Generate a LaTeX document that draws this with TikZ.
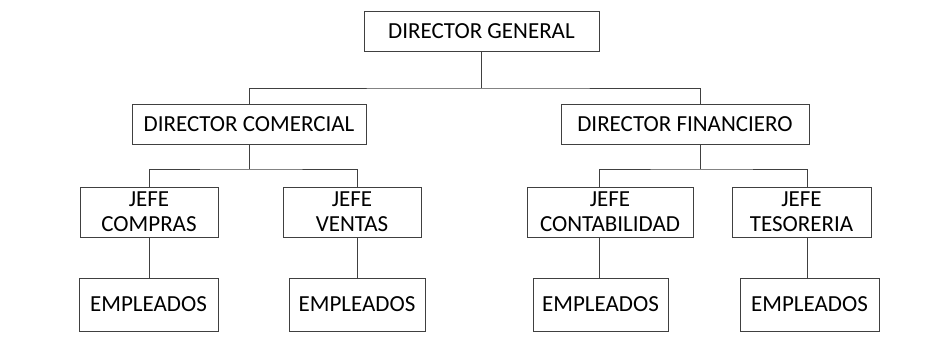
\documentclass[tikz,border=0pt]{standalone}
\usepackage{fontspec}
\setmainfont{Carlito}
\usepackage{tikz}
\usetikzlibrary{positioning}
\definecolor{orgLine}{HTML}{404040}
\tikzset{
  orgbox/.style={rectangle,draw=orgLine,line width=0.9pt,fill=white,
                 inner sep=0pt,align=center,
                 font=\fontsize{23}{25}\selectfont},
  orglink/.style={draw=orgLine,line width=0.9pt}
}

\begin{document}
\begin{tikzpicture}[x=1pt,y=-1pt]
    \useasboundingbox (0,0) rectangle (942,348);
    % level 0
    \node[orgbox,minimum width=235pt,minimum height=40pt] (dg) at (481.5,31) {DIRECTOR GENERAL};
    % level 1
    \node[orgbox,minimum width=234pt,minimum height=40pt] (dc) at (249,124) {DIRECTOR COMERCIAL};
    \node[orgbox,minimum width=248pt,minimum height=40pt] (df) at (685,124) {DIRECTOR FINANCIERO};
    % level 2
    \node[orgbox,minimum width=138pt,minimum height=50pt] (jc) at (149,212) {JEFE\\COMPRAS};
    \node[orgbox,minimum width=138pt,minimum height=50pt] (jv) at (352,212) {JEFE\\VENTAS};
    \node[orgbox,minimum width=166pt,minimum height=50pt] (jco) at (610,212) {JEFE\\CONTABILIDAD};
    \node[orgbox,minimum width=139pt,minimum height=50pt] (jt) at (801.5,212) {JEFE\\TESORERIA};
    % level 3
    \node[orgbox,minimum width=139pt,minimum height=53pt] (e1) at (148.5,304.5) {EMPLEADOS};
    \node[orgbox,minimum width=136pt,minimum height=53pt] (e2) at (357,304.5) {EMPLEADOS};
    \node[orgbox,minimum width=135pt,minimum height=53pt] (e3) at (600.5,304.5) {EMPLEADOS};
    \node[orgbox,minimum width=139pt,minimum height=53pt] (e4) at (809.5,304.5) {EMPLEADOS};

    % connector points
    \coordinate (bus0) at (481.5,88);
    \coordinate (bus1) at (249,169);
    \coordinate (bus2) at (700,169);
    \coordinate (dfin) at ([xshift=15pt]df.north);
    \coordinate (dfout) at ([xshift=15pt]df.south);
    \coordinate (jvin) at ([xshift=5pt]jv.north);
    \coordinate (jvout) at ([xshift=5pt]jv.south);
    \coordinate (jcoin) at ([xshift=-11pt]jco.north);
    \coordinate (jcoout) at ([xshift=-11pt]jco.south);
    \coordinate (jtin) at ([xshift=5.5pt]jt.north);
    \coordinate (jtout) at ([xshift=5.5pt]jt.south);

    \draw[orglink] (dg.south) -- (bus0);
    \draw[orglink] (dc.north) |- (bus0) -| (dfin);
    \draw[orglink] (dc.south) -- (bus1);
    \draw[orglink] (jc.north) |- (bus1) -| (jvin);
    \draw[orglink] (dfout) -- (bus2);
    \draw[orglink] (jcoin) |- (bus2) -| (jtin);
    \draw[orglink] (jc.south) -- (jc.south |- e1.north);
    \draw[orglink] (jvout) -- (jvout |- e2.north);
    \draw[orglink] (jcoout) -- (jcoout |- e3.north);
    \draw[orglink] (jtout) -- (jtout |- e4.north);
\end{tikzpicture}
\end{document}
